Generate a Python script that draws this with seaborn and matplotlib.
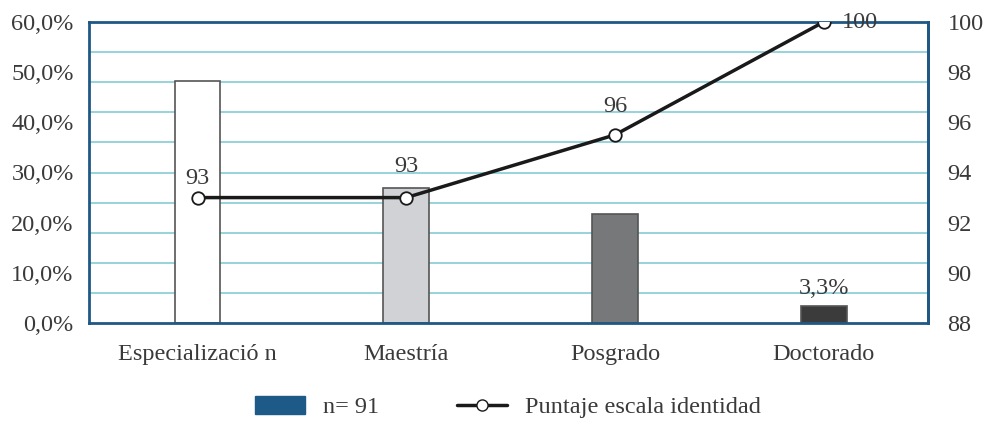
import matplotlib
matplotlib.use("Agg")
import matplotlib.pyplot as plt
import seaborn as sns
import pandas as pd
import numpy as np
from matplotlib.patches import Patch
from matplotlib.lines import Line2D

categories = ["Especializació n", "Maestría", "Posgrado", "Doctorado"]
pct_values = [48.2, 27.0, 21.8, 3.3]
score_values = [93.0, 93.0, 95.5, 100.0]
score_labels = ["93", "93", "96", "100"]
bar_colors = ["#ffffff", "#d0d2d5", "#77787a", "#3b3b3c"]
left_ticks = [0, 10, 20, 30, 40, 50, 60]
left_ticklabels = ["0,0%", "10,0%", "20,0%", "30,0%", "40,0%", "50,0%", "60,0%"]
right_ticks = [88, 90, 92, 94, 96, 98, 100]

sns.set_theme(style="white")
plt.rcParams["font.family"] = ["Liberation Serif", "DejaVu Serif"]

df = pd.DataFrame({"cat": categories, "pct": pct_values, "score": score_values})

fig = plt.figure(figsize=(9.84, 4.21), dpi=100)
ax = fig.add_axes([89/984, 1-323/421, (928-89)/984, (323-22)/421])

frame_color = "#1f5885"
grid_color = "#8fcfd8"
text_color = "#3a3a3a"
fs = 17.5

sns.barplot(data=df, x="cat", y="pct", hue="cat", palette=bar_colors,
            width=0.22, edgecolor="#555555", linewidth=1.2, ax=ax, legend=False,
            saturation=1)
ax.set_xlim(-0.52, 3.5)
ax.set_ylim(0, 60)
for g in np.arange(6, 60, 6):
    ax.axhline(g, color=grid_color, lw=1.3, zorder=0)
ax.set_axisbelow(True)
ax.set_yticks(left_ticks)
ax.set_yticklabels(left_ticklabels)
ax.set_xlabel("")
ax.set_ylabel("")
ax.tick_params(axis="both", length=0, labelsize=fs, colors=text_color)
ax.tick_params(axis="x", pad=15)
ax.tick_params(axis="y", pad=11)
for s in ax.spines.values():
    s.set_color(frame_color)
    s.set_linewidth(2)

ax.text(3, pct_values[3] + 1.5, "3,3%", ha="center", va="bottom", fontsize=fs, color=text_color)

ax2 = ax.twinx()
sns.lineplot(data=df, x="cat", y="score", ax=ax2, color="#1a1a1a", lw=2.5,
             marker="o", markersize=9, markerfacecolor="white",
             markeredgecolor="#1a1a1a", markeredgewidth=1.3, zorder=5)
ax2.set_ylim(88, 100)
ax2.set_yticks(right_ticks)
ax2.set_xlim(-0.52, 3.5)
ax2.set_xlabel("")
ax2.set_ylabel("")
ax2.tick_params(axis="y", length=0, labelsize=fs, colors=text_color, pad=14)
for s in ax2.spines.values():
    s.set_color(frame_color)
    s.set_linewidth(2)
for side in ("left", "right", "top", "bottom"):
    ax2.spines[side].set_visible(side == "right")

offsets = [(0, 6), (0, 15), (0, 13), (13, 0)]
for i, (v, lab) in enumerate(zip(score_values, score_labels)):
    dx, dy = offsets[i]
    ax2.annotate(lab, (i, v), xytext=(dx, dy), textcoords="offset points",
                 ha="center" if dy else "left", va="bottom" if dy else "center",
                 fontsize=fs, color=text_color, zorder=6)

handles = [Patch(facecolor="#1d5a88", edgecolor="#1d5a88"),
           Line2D([0], [0], color="#1a1a1a", lw=2.5, marker="o", markersize=8,
                  markerfacecolor="white", markeredgecolor="#1a1a1a")]
fig.legend(handles, ["n= 91", "Puntaje escala identidad"], loc="center",
           bbox_to_anchor=(508/984, 1-407/421), ncol=2, frameon=False,
           fontsize=fs, handlelength=2.05, handleheight=0.8, columnspacing=3.2,
           handletextpad=0.75, labelcolor=text_color)

fig.savefig("out.png", dpi=100)
